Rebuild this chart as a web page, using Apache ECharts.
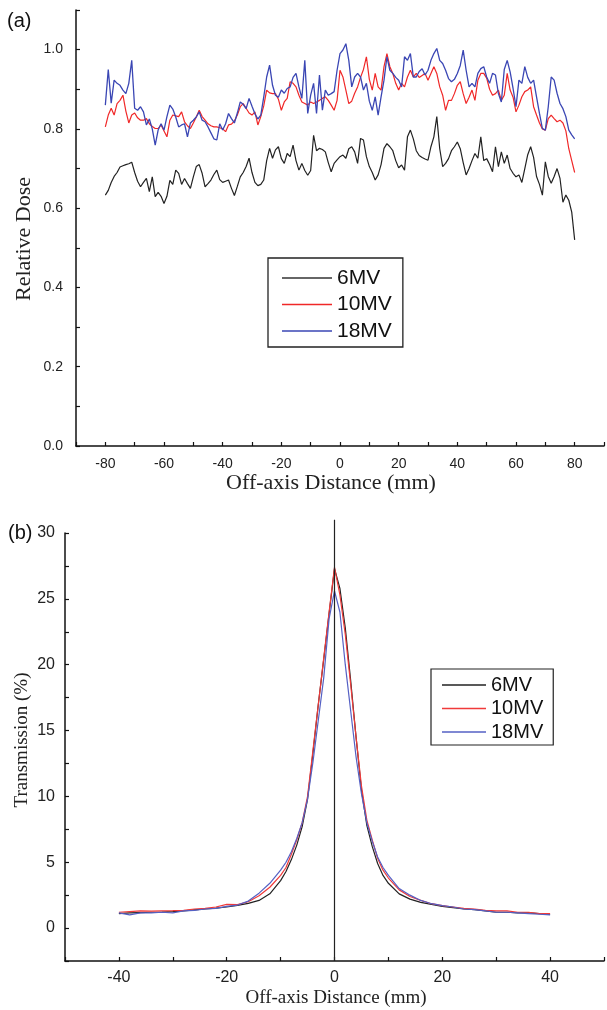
<!DOCTYPE html>
<html>
<head>
<meta charset="utf-8">
<script src="https://cdn.jsdelivr.net/npm/echarts@6/dist/echarts.min.js"></script>
<style>
html,body{margin:0;padding:0;background:#fff;}
#chart{width:607px;height:1010px;}
</style>
</head>
<body>
<div id="chart"></div>
<script>
// ---------- (a) Relative dose profiles (x in mm, 1 mm steps) ----------
var xTop = [-80,-79,-78,-77,-76,-75,-74,-73,-72,-71,-70,-69,-68,-67,-66,-65,-64,-63,-62,-61,
  -60,-59,-58,-57,-56,-55,-54,-53,-52,-51,-50,-49,-48,-47,-46,-45,-44,-43,-42,-41,
  -40,-39,-38,-37,-36,-35,-34,-33,-32,-31,-30,-29,-28,-27,-26,-25,-24,-23,-22,-21,
  -20,-19,-18,-17,-16,-15,-14,-13,-12,-11,-10,-9,-8,-7,-6,-5,-4,-3,-2,-1,
  0,1,2,3,4,5,6,7,8,9,10,11,12,13,14,15,16,17,18,19,
  20,21,22,23,24,25,26,27,28,29,30,31,32,33,34,35,36,37,38,39,
  40,41,42,43,44,45,46,47,48,49,50,51,52,53,54,55,56,57,58,59,
  60,61,62,63,64,65,66,67,68,69,70,71,72,73,74,75,76,77,78,79,80];
var dose6 = [0.633,0.645,0.665,0.68,0.69,0.704,0.707,0.71,0.712,0.716,
  0.69,0.668,0.654,0.665,0.675,0.642,0.679,0.629,0.64,0.63,
  0.612,0.63,0.67,0.66,0.696,0.688,0.66,0.675,0.662,0.65,
  0.679,0.705,0.71,0.688,0.654,0.662,0.671,0.685,0.696,0.672,
  0.665,0.668,0.671,0.65,0.632,0.655,0.679,0.69,0.705,0.726,
  0.69,0.665,0.657,0.66,0.671,0.72,0.751,0.726,0.747,0.755,
  0.725,0.713,0.738,0.73,0.759,0.72,0.696,0.713,0.695,0.683,
  0.695,0.784,0.745,0.751,0.748,0.742,0.715,0.692,0.713,0.722,
  0.73,0.734,0.726,0.75,0.755,0.742,0.713,0.776,0.772,0.73,
  0.705,0.69,0.671,0.684,0.71,0.751,0.763,0.755,0.745,0.72,
  0.702,0.709,0.696,0.78,0.797,0.775,0.745,0.733,0.728,0.724,
  0.721,0.755,0.78,0.831,0.75,0.705,0.713,0.725,0.745,0.755,
  0.767,0.75,0.715,0.684,0.70,0.72,0.738,0.726,0.78,0.72,
  0.725,0.71,0.692,0.755,0.705,0.742,0.713,0.734,0.70,0.688,
  0.679,0.684,0.665,0.70,0.735,0.755,0.728,0.68,0.66,0.633,
  0.717,0.68,0.663,0.68,0.70,0.675,0.615,0.633,0.62,0.59,
  0.52];
var dose10 = [0.805,0.835,0.852,0.835,0.864,0.872,0.885,0.845,0.815,0.835,
  0.84,0.828,0.822,0.822,0.826,0.813,0.806,0.801,0.801,0.81,
  0.795,0.78,0.822,0.835,0.833,0.831,0.843,0.818,0.808,0.801,
  0.815,0.83,0.847,0.831,0.822,0.813,0.808,0.805,0.805,0.803,
  0.80,0.793,0.81,0.812,0.82,0.835,0.856,0.864,0.852,0.84,
  0.835,0.843,0.81,0.831,0.858,0.898,0.891,0.889,0.889,0.875,
  0.847,0.868,0.877,0.919,0.915,0.906,0.885,0.868,0.864,0.86,
  0.868,0.864,0.868,0.872,0.877,0.881,0.872,0.86,0.847,0.872,
  0.948,0.931,0.898,0.864,0.87,0.89,0.906,0.93,0.95,0.982,
  0.925,0.898,0.94,0.906,0.898,0.957,0.99,0.957,0.94,0.915,
  0.898,0.915,0.906,0.931,0.948,0.931,0.94,0.93,0.935,0.94,
  0.923,0.94,0.957,0.94,0.906,0.885,0.847,0.872,0.872,0.889,
  0.91,0.919,0.889,0.864,0.88,0.898,0.872,0.923,0.94,0.94,
  0.928,0.9,0.885,0.889,0.898,0.872,0.885,0.94,0.898,0.88,
  0.843,0.86,0.881,0.894,0.898,0.906,0.856,0.835,0.815,0.80,
  0.797,0.826,0.835,0.826,0.818,0.822,0.815,0.795,0.75,0.72,
  0.69];
var dose18 = [0.86,0.95,0.865,0.923,0.915,0.91,0.898,0.889,0.915,0.973,
  0.852,0.847,0.856,0.843,0.81,0.825,0.80,0.759,0.797,0.813,
  0.797,0.831,0.86,0.85,0.83,0.805,0.81,0.813,0.78,0.815,
  0.822,0.83,0.843,0.822,0.818,0.805,0.79,0.775,0.772,0.813,
  0.797,0.813,0.839,0.826,0.815,0.84,0.868,0.862,0.851,0.877,
  0.857,0.838,0.825,0.835,0.88,0.931,0.961,0.91,0.885,0.88,
  0.898,0.89,0.902,0.906,0.93,0.94,0.906,0.877,0.973,0.839,
  0.885,0.915,0.839,0.936,0.847,0.898,0.885,0.889,0.894,0.948,
  0.99,0.999,1.015,0.973,0.906,0.931,0.94,0.931,0.898,0.915,
  0.87,0.847,0.881,0.835,0.881,0.923,0.982,0.948,0.94,0.93,
  0.923,0.906,0.982,0.973,0.99,0.931,0.931,0.945,0.952,0.936,
  0.948,0.973,0.99,1.003,0.973,0.965,0.948,0.927,0.919,0.925,
  0.94,0.96,0.999,0.948,0.906,0.915,0.906,0.94,0.952,0.957,
  0.931,0.915,0.94,0.936,0.889,0.868,0.95,0.973,0.944,0.902,
  0.856,0.923,0.915,0.957,0.93,0.915,0.923,0.881,0.839,0.801,
  0.797,0.856,0.931,0.923,0.89,0.864,0.851,0.831,0.797,0.785,
  0.775];
var topXLabels = [-80,-60,-40,-20,0,20,40,60,80];
var topYLabels = [0,0.2,0.4,0.6,0.8,1.0];

// ---------- (b) Transmission profiles ----------
var xBot = [-40,-38,-36,-34,-32,-30,-28,-26,-24,-22,-20,-18,-16,-14,-12,-10,-9,-8,-7,-6,-5,-4,-3,-2,-1,0,1,2,3,4,5,6,7,8,9,10,12,14,16,18,20,22,24,26,28,30,32,34,36,38,40];
var trans6 = [1.1,1.15,1.18,1.2,1.22,1.25,1.3,1.38,1.45,1.52,1.6,1.72,1.88,2.1,2.6,3.6,4.3,5.2,6.3,7.7,9.8,13.3,17.0,20.4,23.9,27.3,25.8,22.8,18.8,14.5,10.5,7.8,6.2,4.9,4.0,3.4,2.6,2.2,1.95,1.8,1.65,1.55,1.45,1.4,1.3,1.2,1.2,1.15,1.15,1.1,1.05];
var trans10 = [1.2,1.25,1.3,1.28,1.3,1.32,1.35,1.45,1.5,1.6,1.8,1.78,2.0,2.45,3.1,4.0,4.6,5.6,6.7,8.0,10.0,13.5,17.0,20.5,24.0,27.4,25.3,22.3,18.5,14.5,10.8,8.2,6.7,5.3,4.4,3.8,2.9,2.4,2.1,1.85,1.7,1.6,1.5,1.45,1.35,1.3,1.3,1.2,1.2,1.1,1.1];
var trans18 = [1.15,1.0,1.15,1.15,1.2,1.15,1.3,1.35,1.45,1.5,1.65,1.75,2.05,2.65,3.4,4.4,5.0,5.8,6.8,8.0,9.8,12.6,15.8,19.0,23.5,25.6,24.0,20.0,16.5,13.0,10.2,8.0,6.6,5.4,4.6,4.0,3.0,2.5,2.1,1.85,1.7,1.6,1.45,1.4,1.3,1.2,1.2,1.15,1.1,1.05,1.0];
var centreX = [0,0];
var centreY = [-2.5,31];
var botXLabels = [-40,-20,0,20,40];
var botYLabels = [0,5,10,15,20,25,30];

function pairs(xs, ys){ return xs.map(function(x,i){ return [x, ys[i]]; }); }
function has(list, v){ for (var i=0;i<list.length;i++){ if (Math.abs(list[i]-v) < 1e-6) return true; } return false; }

var SANS = 'Liberation Sans, Arial, sans-serif';
var SERIF = 'Liberation Serif, Times New Roman, serif';
var AX = {color:'#111', width:1.5};

function mainAxis(extra){
  return Object.assign({
    type:'value', splitLine:{show:false},
    axisLine:{show:true, onZero:false, lineStyle:AX},
    axisTick:{show:true, inside:true, length:4, lineStyle:{color:'#111', width:1.2}}
  }, extra);
}

var chart = echarts.init(document.getElementById('chart'), null, {renderer:'canvas'});
var option = {
  animation:false,
  backgroundColor:'#fff',
  grid:[
    {left:76, top:10, width:531, height:436},
    {left:65, top:533, width:542, height:428}
  ],
  xAxis:[
    mainAxis({gridIndex:0, position:'bottom', min:-90, max:90, interval:10,
      axisLabel:{margin:11, fontSize:14, fontFamily:SANS, color:'#222',
        formatter:function(v){ return has(topXLabels, v) ? String(Math.round(v)) : ''; }}}),
    mainAxis({gridIndex:1, position:'bottom', min:-50, max:50, interval:10,
      axisLabel:{margin:9, fontSize:16, fontFamily:SANS, color:'#222',
        formatter:function(v){ return has(botXLabels, v) ? String(Math.round(v)) : ''; }}})
  ],
  yAxis:[
    mainAxis({gridIndex:0, position:'left', min:0, max:1.1, interval:0.1,
      axisLabel:{margin:13, fontSize:14, fontFamily:SANS, color:'#222',
        formatter:function(v){ return has(topYLabels, v) ? v.toFixed(1) : ''; }}}),
    mainAxis({gridIndex:1, position:'left', min:-2.5, max:30, interval:2.5,
      axisLabel:{margin:10, fontSize:16, fontFamily:SANS, color:'#222',
        formatter:function(v){ return has(botYLabels, v) ? String(Math.round(v)) : ''; }}})
  ],
  legend:[
    {data:['a6MV','a10MV','a18MV'], orient:'vertical', left:268, top:258, icon:'rect',
     formatter:function(n){ return n.slice(1); },
     itemWidth:50, itemHeight:1.6, itemGap:2.5,
     padding:[8,11,4,14], borderColor:'#222', borderWidth:1.3,
     textStyle:{fontSize:21, lineHeight:24, fontFamily:SANS, color:'#111'},
     selectedMode:false},
    {data:['b6MV','b10MV','b18MV'], orient:'vertical', left:431, top:669, icon:'rect',
     formatter:function(n){ return n.slice(1); },
     itemWidth:44, itemHeight:1.4, itemGap:1.5,
     padding:[5,10,2,11], borderColor:'#222', borderWidth:1.2,
     textStyle:{fontSize:20, lineHeight:22, fontFamily:SANS, color:'#111'},
     selectedMode:false}
  ],
  series:[
    {name:'a6MV', type:'line', xAxisIndex:0, yAxisIndex:0, data:pairs(xTop, dose6), symbol:'none', lineStyle:{color:'#222', width:1.2}, itemStyle:{color:'#333'}},
    {name:'a10MV', type:'line', xAxisIndex:0, yAxisIndex:0, data:pairs(xTop, dose10), symbol:'none', lineStyle:{color:'#f02828', width:1.2}, itemStyle:{color:'#f02828'}},
    {name:'a18MV', type:'line', xAxisIndex:0, yAxisIndex:0, data:pairs(xTop, dose18), symbol:'none', lineStyle:{color:'#3a46b4', width:1.3}, itemStyle:{color:'#3a46b4'}},
    {name:'b6MV', type:'line', xAxisIndex:1, yAxisIndex:1, data:pairs(xBot, trans6), symbol:'none', lineStyle:{color:'#222', width:1.2}, itemStyle:{color:'#222'}},
    {name:'b10MV', type:'line', xAxisIndex:1, yAxisIndex:1, data:pairs(xBot, trans10), symbol:'none', lineStyle:{color:'#f03a3a', width:1.2}, itemStyle:{color:'#f03a3a'}},
    {name:'b18MV', type:'line', xAxisIndex:1, yAxisIndex:1, data:pairs(xBot, trans18), symbol:'none', lineStyle:{color:'#5560c4', width:1.2}, itemStyle:{color:'#5560c4'}},
    {name:'centre', type:'line', xAxisIndex:1, yAxisIndex:1, data:pairs(centreX, centreY), symbol:'none', clip:false, silent:true, lineStyle:{color:'#222', width:1.2}}
  ],
  graphic:[
    {type:'text', x:7, y:21, style:{text:'(a)', font:'20px ' + SANS, fill:'#111', textAlign:'left', textVerticalAlign:'middle'}},
    {type:'text', x:8, y:533, style:{text:'(b)', font:'20px ' + SANS, fill:'#111', textAlign:'left', textVerticalAlign:'middle'}},
    {type:'text', x:24, y:239, rotation:Math.PI/2, style:{text:'Relative Dose', font:'22px ' + SERIF, fill:'#222', textAlign:'center', textVerticalAlign:'middle'}},
    {type:'text', x:331, y:483, style:{text:'Off-axis Distance (mm)', font:'22px ' + SERIF, fill:'#222', textAlign:'center', textVerticalAlign:'middle'}},
    {type:'text', x:22, y:740, rotation:Math.PI/2, style:{text:'Transmission (%)', font:'19px ' + SERIF, fill:'#222', textAlign:'center', textVerticalAlign:'middle'}},
    {type:'text', x:336, y:998, style:{text:'Off-axis Distance (mm)', font:'19px ' + SERIF, fill:'#222', textAlign:'center', textVerticalAlign:'middle'}}
  ]
};
chart.setOption(option);
</script>
</body>
</html>
